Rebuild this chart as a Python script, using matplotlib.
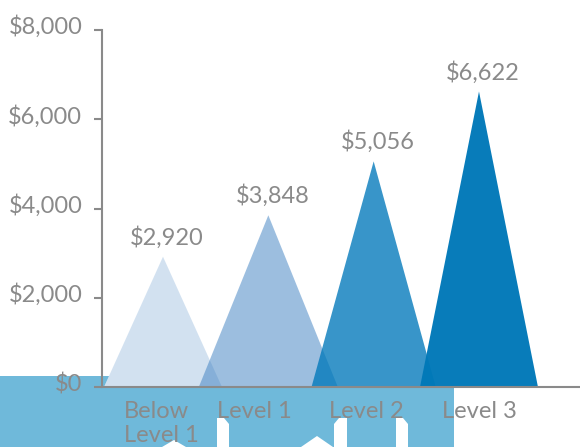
import numpy as np
import matplotlib.pyplot as plt
import matplotlib.transforms as mtransforms
from matplotlib.patches import Polygon, Rectangle
from matplotlib.ticker import FuncFormatter

categories = ['Below\nLevel 1', 'Level 1', 'Level 2', 'Level 3']
values = [2920, 3848, 5056, 6622]
yticks = [0, 2000, 4000, 6000, 8000]

# styling per peak
half_w = [0.56, 0.66, 0.59, 0.56]
tick_shift = [-0.02, -0.13, -0.07, 0.0]
colors = [(79/255, 139/255, 199/255), (59/255, 127/255, 193/255),
          (0/255, 120/255, 186/255), (0/255, 120/255, 184/255)]
alphas = [0.25, 0.5, 0.78, 0.97]

gray = '#8a8a8a'
plt.rcParams['font.family'] = ['Lato', 'DejaVu Sans']

fig = plt.figure(figsize=(5.8, 4.47), dpi=100)
W, H = 580, 447

# decorative band behind the chart
band = '#6fb9da'
fig.patches.append(Rectangle((0, 0), 454 / W, (H - 376) / H, transform=fig.transFigure,
                             facecolor=band, edgecolor='none', zorder=0))
# white shapes in the band
def fig_poly(pts):
    pts = [(x / W, 1 - y / H) for x, y in pts]
    fig.patches.append(Polygon(pts, closed=True, transform=fig.transFigure,
                               facecolor='white', edgecolor='none', zorder=0.5))

fig_poly([(217, 447), (217, 418), (224, 418), (229, 424), (229, 447)])
fig_poly([(334, 447), (334, 424), (339, 418), (347, 418), (347, 447)])
fig_poly([(396, 447), (396, 418), (403, 418), (408, 424), (408, 447)])
fig_poly([(301, 447), (317, 436), (333, 447)])
fig_poly([(162, 447), (174, 440), (186, 447)])

ax = fig.add_axes([101.7 / W, 1 - 387 / H, 1 - 101.7 / W, (387 - 30) / H])
ax.set_zorder(2)
ax.patch.set_alpha(0)

x = np.arange(len(values))
# white underlay so the band does not show through the peaks
for xi, v, hw in zip(x, values, half_w):
    ax.fill([xi - hw, xi, xi + hw], [0, v, 0], color='white', lw=0, zorder=1)
for xi, v, hw, c, a in zip(x, values, half_w, colors, alphas):
    ax.fill([xi - hw, xi, xi + hw], [0, v, 0], color=c, alpha=a, lw=0, zorder=2)
    ax.annotate(f'${v:,.0f}', (xi, v), xytext=(3, 14), textcoords='offset points',
                ha='center', va='center', fontsize=17, color=gray)

ax.set_xlim(-0.582, 3.959)
ax.set_ylim(0, 8000)
ax.set_yticks(yticks)
ax.yaxis.set_major_formatter(FuncFormatter(lambda v, p: f'${v:,.0f}'))
ax.set_xticks(x + np.array(tick_shift))
ax.set_xticklabels(categories, multialignment='left')

for s in ['top', 'right']:
    ax.spines[s].set_visible(False)
for s in ['left', 'bottom']:
    ax.spines[s].set_color(gray)
    ax.spines[s].set_linewidth(1.5)
    ax.spines[s].set_zorder(3)
ax.tick_params(axis='y', length=6, width=1.5, color=gray, pad=8, labelsize=17, labelcolor=gray)
ax.tick_params(axis='x', length=0, pad=10, labelsize=17, labelcolor=gray)

# y labels sit a little above their ticks
up = mtransforms.ScaledTranslation(0, 5 / 100, fig.dpi_scale_trans)
for lab in ax.get_yticklabels():
    lab.set_transform(lab.get_transform() + up)

fig.savefig('out.png', dpi=100)
